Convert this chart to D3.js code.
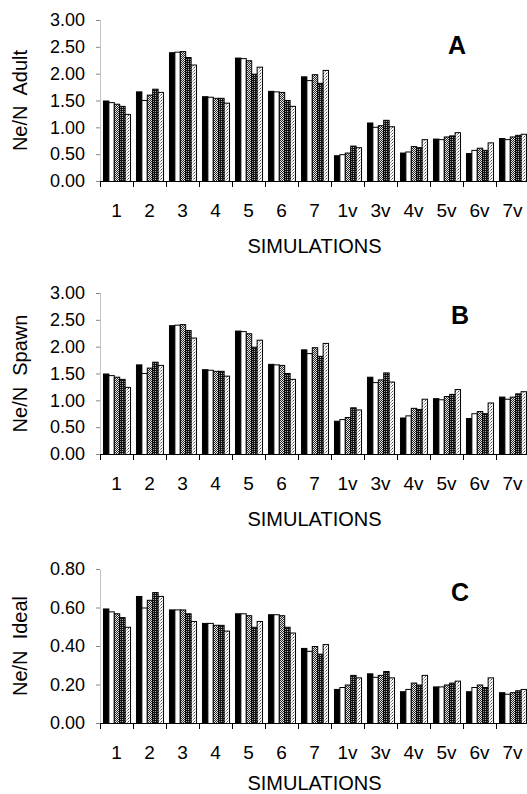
<!DOCTYPE html>
<html>
<head>
<meta charset="utf-8">
<script src="https://cdn.jsdelivr.net/npm/d3@7"></script>
<style>
  body { margin: 0; background: #fff; }
  text { font-family: "Liberation Sans", Arial, sans-serif; fill: #000; }
</style>
</head>
<body>
<div id="chart"></div>
<script>
const categories = ["1", "2", "3", "4", "5", "6", "7", "1v", "3v", "4v", "5v", "6v", "7v"]
const seriesNames = ["s1", "s2", "s3", "s4", "s5"]

// one row per simulation, five bars each
const adultValues = [
  [1.50, 1.47, 1.44, 1.40, 1.25],
  [1.67, 1.51, 1.61, 1.72, 1.66],
  [2.40, 2.41, 2.42, 2.31, 2.17],
  [1.58, 1.57, 1.55, 1.55, 1.46],
  [2.30, 2.29, 2.25, 2.00, 2.13],
  [1.68, 1.67, 1.66, 1.51, 1.40],
  [1.95, 1.88, 1.99, 1.83, 2.07],
  [0.48, 0.50, 0.53, 0.66, 0.63],
  [1.09, 1.01, 1.04, 1.14, 1.02],
  [0.53, 0.55, 0.65, 0.63, 0.78],
  [0.79, 0.78, 0.83, 0.85, 0.91],
  [0.52, 0.58, 0.62, 0.58, 0.72],
  [0.80, 0.78, 0.83, 0.86, 0.88]
]

const spawnValues = [
  [1.50, 1.47, 1.44, 1.40, 1.25],
  [1.67, 1.51, 1.61, 1.72, 1.66],
  [2.40, 2.41, 2.42, 2.31, 2.17],
  [1.58, 1.57, 1.55, 1.55, 1.46],
  [2.30, 2.29, 2.25, 2.00, 2.13],
  [1.68, 1.67, 1.66, 1.51, 1.40],
  [1.95, 1.88, 1.99, 1.83, 2.07],
  [0.62, 0.65, 0.69, 0.87, 0.83],
  [1.44, 1.34, 1.39, 1.52, 1.35],
  [0.68, 0.72, 0.86, 0.84, 1.03],
  [1.04, 1.02, 1.08, 1.12, 1.21],
  [0.67, 0.76, 0.80, 0.76, 0.96],
  [1.07, 1.03, 1.07, 1.13, 1.17]
]

const idealValues = [
  [0.595, 0.58, 0.57, 0.55, 0.50],
  [0.66, 0.60, 0.64, 0.68, 0.66],
  [0.59, 0.59, 0.59, 0.57, 0.53],
  [0.52, 0.52, 0.51, 0.51, 0.48],
  [0.57, 0.57, 0.56, 0.50, 0.53],
  [0.565, 0.565, 0.56, 0.50, 0.47],
  [0.39, 0.375, 0.40, 0.36, 0.41],
  [0.177, 0.187, 0.20, 0.25, 0.237],
  [0.258, 0.24, 0.25, 0.27, 0.237],
  [0.165, 0.177, 0.21, 0.20, 0.25],
  [0.19, 0.19, 0.20, 0.21, 0.22],
  [0.165, 0.187, 0.20, 0.187, 0.237],
  [0.16, 0.152, 0.16, 0.17, 0.177]
]

const bigTicks = [0, 0.5, 1.0, 1.5, 2.0, 2.5, 3.0]
const smallTicks = [0, 0.2, 0.4, 0.6, 0.8]

const width = 527, height = 794
const left = 100, right = 529

const panels = [
  { values: adultValues, title: "Ne/N  Adult", letter: "A", top: 20, bottom: 181, max: 3, ticks: bigTicks, lx: 457, ly: 45, sy: 65 },
  { values: spawnValues, title: "Ne/N  Spawn", letter: "B", top: 293, bottom: 454, max: 3, ticks: bigTicks, lx: 460, ly: 315, sy: 65 },
  { values: idealValues, title: "Ne/N  Ideal", letter: "C", top: 569, bottom: 723, max: 0.8, ticks: smallTicks, lx: 460, ly: 592, sy: 60 }
]

const svg = d3.select("#chart").append("svg")
  .attr("width", width)
  .attr("height", height)

// dotted fills like the old print
const defs = svg.append("defs")
function pattern(id, size, bg, dots) {
  const p = defs.append("pattern")
    .attr("id", id)
    .attr("patternUnits", "userSpaceOnUse")
    .attr("width", size).attr("height", size)
  p.append("rect").attr("width", size).attr("height", size).attr("fill", bg)
  dots.forEach(([x, y, c]) => {
    p.append("rect").attr("x", x).attr("y", y).attr("width", 1).attr("height", 1).attr("fill", c)
  })
}
pattern("pMid", 2, "#eee", [[0, 0, "#222"], [1, 1, "#222"]])
pattern("pDark", 2, "#111", [[1, 1, "#bbb"]])
pattern("pLight", 3, "#fff", [[1, 1, "#444"], [0, 2, "#888"], [2, 0, "#bbb"]])

const fills = ["#000", "#fff", "url(#pMid)", "url(#pDark)", "url(#pLight)"]

const xScale = d3.scaleBand()
  .domain(categories)
  .range([left, right])
  .paddingInner(0.18)
  .paddingOuter(0.09)

const xInner = d3.scaleBand()
  .domain(seriesNames)
  .range([0, xScale.bandwidth()])

const gap = xScale.step() * 0.18 / 2

panels.forEach(panel => {
  const yScale = d3.scaleLinear()
    .domain([0, panel.max])
    .range([panel.bottom, panel.top])

  const g = svg.append("g")

  // bars
  const groups = g.selectAll(".grp")
    .data(categories)
    .enter().append("g")
      .attr("class", "grp")
      .attr("transform", d => "translate(" + xScale(d) + ",0)")

  groups.selectAll("rect")
    .data((d, i) => panel.values[i].map((v, j) => ({ s: seriesNames[j], v: v, j: j })))
    .enter().append("rect")
      .attr("x", d => xInner(d.s) + 0.5)
      .attr("y", d => yScale(d.v) + 0.5)
      .attr("width", xInner.bandwidth())
      .attr("height", d => panel.bottom - yScale(d.v))
      .attr("fill", d => fills[d.j])
      .attr("stroke", "#000")
      .attr("stroke-width", 1)

  // Y Axis
  const yAxis = d3.axisLeft(yScale)
    .tickValues(panel.ticks)
    .tickFormat(d3.format(".2f"))
    .tickSize(4)
    .tickPadding(11)
    .tickSizeOuter(0)

  const ya = g.append("g")
    .attr("transform", "translate(" + left + ",0)")
    .call(yAxis)
  ya.select(".domain").attr("stroke", "#888").attr("stroke-dasharray", "1,1")
  ya.selectAll(".tick line").attr("stroke", "#888")
  ya.selectAll("text").attr("font-size", 18).attr("font-family", "Liberation Sans, Arial, sans-serif")

  // X Axis: labels at band centres, ticks between bands
  const xAxis = d3.axisBottom(xScale).tickSize(0).tickPadding(23)
  const xa = g.append("g")
    .attr("transform", "translate(0," + panel.bottom + ")")
    .call(xAxis)
  xa.select(".domain").attr("stroke", "#000")
  xa.selectAll("text").attr("font-size", 19).attr("font-family", "Liberation Sans, Arial, sans-serif")

  xa.selectAll(".sep")
    .data(categories.concat(["end"]))
    .enter().append("line")
      .attr("class", "sep")
      .attr("x1", (d, i) => i < categories.length ? xScale(d) - gap + 0.5 : right - 0.5)
      .attr("x2", (d, i) => i < categories.length ? xScale(d) - gap + 0.5 : right - 0.5)
      .attr("y1", 0)
      .attr("y2", 6)
      .attr("stroke", "#000")

  g.append("text")
    .text("SIMULATIONS")
    .attr("text-anchor", "middle")
    .attr("font-size", 20)
    .attr("x", (left + right) / 2)
    .attr("y", panel.bottom + panel.sy)
    .attr("dy", "0.35em")

  g.append("text")
    .text(panel.title)
    .style("white-space", "pre")
    .attr("text-anchor", "middle")
    .attr("font-size", 20)
    .attr("transform", "translate(27," + (panel.top + panel.bottom) / 2 + ")rotate(-90)")

  g.append("text")
    .text(panel.letter)
    .attr("text-anchor", "middle")
    .attr("font-size", 25)
    .attr("font-weight", "bold")
    .attr("x", panel.lx)
    .attr("y", panel.ly)
    .attr("dy", "0.35em")
})
</script>
</body>
</html>
